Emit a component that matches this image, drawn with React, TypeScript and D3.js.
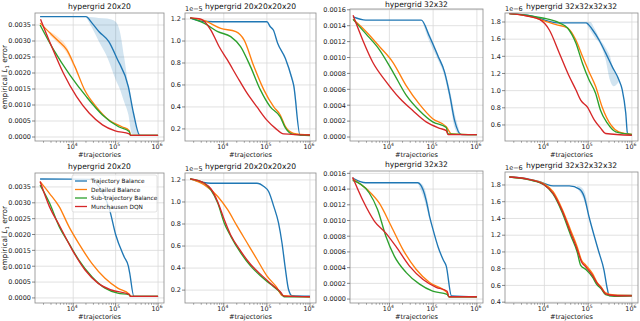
import React from "react";
import * as d3 from "d3";

const W = 640,
  H = 321;
const FONT = "DejaVu Sans, Verdana, sans-serif";

const METHODS = ["Trajectory Balance", "Detailed Balance", "Sub-trajectory Balance", "Munchausen DQN"];
const COLORS = ["#1f77b4", "#ff7f0e", "#2ca02c", "#d62728"];
const TITLES = ["hypergrid 20x20", "hypergrid 20x20x20x20", "hypergrid 32x32", "hypergrid 32x32x32x32"];
const X_TICKS = [1e4, 1e5, 1e6];
const X_EXP = [3.1, 6.14];

const Y_TICKS_20 = [0, 0.0005, 0.001, 0.0015, 0.002, 0.0025, 0.003, 0.0035];
const Y_TICKS_20_4 = [0.2, 0.4, 0.6, 0.8, 1.0, 1.2];
const Y_TICKS_32 = [0, 0.0002, 0.0004, 0.0006, 0.0008, 0.001, 0.0012, 0.0014, 0.0016];
const Y_TICKS_32_4 = [0.4, 0.6, 0.8, 1.0, 1.2, 1.4, 1.6, 1.8];

// points are [log10(#trajectories), error]
// ---- row 1 ----
const r1_20_tb = [[3.22, 0.00376], [4.3, 0.00376], [4.45, 0.00355], [4.61, 0.00329], [4.84, 0.00298], [5.03, 0.00246], [5.3, 0.00157], [5.42, 0.00075], [5.57, 0.00005], [6.0, 0.00005]];
const r1_20_db = [[3.22, 0.00356], [3.46, 0.00324], [3.65, 0.003], [3.85, 0.00272], [4.04, 0.0022], [4.27, 0.00147], [4.54, 0.00095], [4.84, 0.00053], [5.15, 0.00032], [5.32, 0.0002], [5.35, 0.00005], [6.0, 0.00005]];
const r1_20_stb = [[3.22, 0.0035], [3.54, 0.00272], [3.92, 0.00194], [4.31, 0.00126], [4.69, 0.00069], [5.07, 0.00032], [5.32, 0.00017], [5.35, 0.00005], [6.0, 0.00005]];
const r1_20_mdqn = [[3.23, 0.00368], [3.46, 0.00293], [3.77, 0.00199], [4.08, 0.00126], [4.38, 0.00074], [4.69, 0.00038], [4.99, 0.00019], [5.32, 0.0001], [5.36, 0.00005], [6.0, 0.00005]];
const r1_20_tbBand = [[4.3, 0.00375, 0.00376], [4.45, 0.0034, 0.00374], [4.6, 0.003, 0.00372], [4.8, 0.0025, 0.0037], [5.0, 0.0018, 0.0036], [5.1, 0.0015, 0.0033], [5.2, 0.0011, 0.0025], [5.3, 0.0007, 0.0016], [5.38, 0.0001, 0.001], [5.5, 0.00004, 0.0003], [5.6, 0.00004, 0.00005]];
const r1_20_dbBand = [[3.45, 0.00318, 0.0033], [3.65, 0.00292, 0.00312], [3.85, 0.00262, 0.00282], [4.0, 0.00222, 0.00232]];

const r1_20x4_tb = [[3.22, 1.21], [3.5, 1.18], [4.0, 1.175], [5.0, 1.175], [5.08, 1.13], [5.15, 1.1], [5.25, 0.98], [5.43, 0.84], [5.58, 0.66], [5.62, 0.6], [5.77, 0.145], [6.0, 0.145]];
const r1_20x4_db = [[3.22, 1.21], [3.55, 1.185], [3.93, 1.115], [4.28, 1.085], [4.47, 1.01], [4.7, 0.767], [4.93, 0.555], [5.16, 0.4], [5.31, 0.327], [5.43, 0.22], [5.62, 0.16], [6.0, 0.145]];
const r1_20x4_stb = [[3.22, 1.21], [3.55, 1.16], [3.86, 1.085], [4.16, 1.04], [4.39, 0.95], [4.62, 0.767], [4.85, 0.555], [5.08, 0.4], [5.31, 0.31], [5.43, 0.21], [5.62, 0.15], [6.0, 0.14]];
const r1_20x4_mdqn = [[3.22, 1.21], [3.47, 1.2], [3.7, 1.1], [3.89, 0.95], [4.08, 0.83], [4.31, 0.675], [4.54, 0.525], [4.77, 0.4], [5.0, 0.28], [5.2, 0.205], [5.39, 0.155], [6.0, 0.145]];
const r1_20x4_tbBand = [[5.45, 0.8, 0.82], [5.55, 0.68, 0.72], [5.62, 0.58, 0.63], [5.7, 0.36, 0.4]];

const r1_32_tb = [[3.17, 0.00151], [3.46, 0.00147], [4.73, 0.00147], [4.92, 0.00126], [5.11, 0.00102], [5.26, 0.00082], [5.38, 0.00053], [5.49, 0.00021], [5.65, 0.00003], [6.0, 0.00003]];
const r1_32_db = [[3.17, 0.00148], [3.46, 0.00133], [3.77, 0.00114], [4.08, 0.00094], [4.38, 0.00065], [4.69, 0.00041], [4.99, 0.00023], [5.3, 0.00013], [5.42, 0.00004], [6.0, 0.00003]];
const r1_32_stb = [[3.17, 0.00148], [3.46, 0.0013], [3.77, 0.0011], [4.08, 0.00082], [4.38, 0.00053], [4.69, 0.00033], [4.99, 0.00019], [5.3, 0.00012], [5.34, 0.00004], [6.0, 0.00003]];
const r1_32_mdqn = [[3.17, 0.00153], [3.39, 0.00122], [3.62, 0.00094], [3.92, 0.0007], [4.23, 0.00049], [4.54, 0.00033], [4.84, 0.00019], [5.15, 0.00011], [5.3, 0.00008], [5.34, 0.00003], [6.0, 0.00003]];
const r1_32_tbBand = [[4.75, 0.00146, 0.00148], [4.9, 0.00122, 0.00132], [5.1, 0.00098, 0.00106], [5.25, 0.00078, 0.00086], [5.38, 0.00046, 0.0006], [5.49, 0.00012, 0.0003], [5.6, 0.00003, 0.00008]];

const r1_32x4_tb = [[3.2, 1.897], [3.7, 1.87], [4.11, 1.807], [4.3, 1.79], [4.95, 1.79], [5.1, 1.71], [5.25, 1.59], [5.4, 1.44], [5.55, 1.28], [5.7, 1.13], [5.78, 1.01], [5.86, 0.74], [5.9, 0.5], [6.0, 0.48]];
const r1_32x4_db = [[3.2, 1.897], [3.66, 1.865], [3.96, 1.82], [4.27, 1.77], [4.53, 1.73], [4.72, 1.59], [4.87, 1.4], [5.02, 1.22], [5.17, 1.05], [5.32, 0.81], [5.52, 0.6], [5.7, 0.52], [6.0, 0.49]];
const r1_32x4_stb = [[3.2, 1.897], [3.66, 1.875], [3.96, 1.847], [4.34, 1.79], [4.53, 1.73], [4.72, 1.555], [4.87, 1.32], [5.02, 1.126], [5.17, 0.97], [5.28, 0.775], [5.44, 0.62], [5.63, 0.52], [6.0, 0.49]];
const r1_32x4_mdqn = [[3.2, 1.897], [3.6, 1.87], [3.89, 1.83], [4.11, 1.71], [4.34, 1.44], [4.57, 1.165], [4.72, 1.01], [4.83, 0.89], [4.98, 0.81], [5.14, 0.66], [5.29, 0.56], [5.4, 0.5], [6.0, 0.48]];
const r1_32x4_tbBand = [[4.95, 1.79, 1.8], [5.05, 1.7, 1.8], [5.15, 1.62, 1.72], [5.25, 1.56, 1.62], [5.4, 1.36, 1.5], [5.5, 1.12, 1.4], [5.58, 1.05, 1.25], [5.7, 1.1, 1.16]];

// ---- row 2 ----
const r2_20_tb = [[3.22, 0.00375], [4.4, 0.00374], [4.7, 0.0033], [4.86, 0.00277], [5.0, 0.002], [5.2, 0.0013], [5.3, 0.001], [5.33, 0.0008], [5.43, 0.00005], [6.0, 0.00005]];
const r2_20_db = [[3.22, 0.00367], [3.44, 0.0033], [3.67, 0.00288], [3.9, 0.00225], [4.13, 0.00172], [4.44, 0.00109], [4.75, 0.00062], [5.05, 0.00031], [5.32, 0.00012], [5.35, 0.00005], [6.0, 0.00005]];
const r2_20_stb = [[3.22, 0.00356], [3.44, 0.003], [3.67, 0.00225], [3.9, 0.00172], [4.13, 0.0012], [4.44, 0.00067], [4.75, 0.00031], [5.05, 0.00015], [5.32, 0.0001], [5.35, 0.00005], [6.0, 0.00005]];
const r2_20_mdqn = [[3.22, 0.00367], [3.44, 0.00288], [3.67, 0.0023], [3.98, 0.00151], [4.28, 0.00088], [4.59, 0.00046], [4.9, 0.00025], [5.32, 0.00011], [5.35, 0.00005], [6.0, 0.00005]];

const r2_20x4_tb = [[3.22, 1.21], [3.7, 1.17], [4.77, 1.17], [4.93, 1.14], [5.04, 1.095], [5.16, 0.96], [5.27, 0.81], [5.35, 0.63], [5.43, 0.39], [5.5, 0.21], [5.58, 0.15], [6.0, 0.145]];
const r2_20x4_db = [[3.22, 1.21], [3.55, 1.155], [3.86, 1.05], [4.09, 0.93], [4.31, 0.78], [4.54, 0.63], [4.77, 0.48], [5.0, 0.33], [5.23, 0.225], [5.36, 0.15], [6.0, 0.14]];
const r2_20x4_stb = [[3.22, 1.21], [3.55, 1.17], [3.7, 1.11], [3.86, 0.99], [4.01, 0.81], [4.16, 0.69], [4.39, 0.54], [4.62, 0.42], [4.85, 0.33], [5.08, 0.255], [5.31, 0.18], [5.4, 0.14], [6.0, 0.14]];
const r2_20x4_mdqn = [[3.22, 1.21], [3.55, 1.17], [3.7, 1.12], [3.86, 1.0], [4.01, 0.84], [4.16, 0.7], [4.39, 0.555], [4.62, 0.435], [4.85, 0.345], [5.08, 0.263], [5.31, 0.185], [5.4, 0.145], [6.0, 0.14]];

const r2_32_tb = [[3.16, 0.00154], [3.46, 0.00148], [4.65, 0.00148], [4.77, 0.00139], [4.84, 0.00126], [4.92, 0.00105], [5.0, 0.00088], [5.11, 0.00067], [5.23, 0.0005], [5.3, 0.00042], [5.42, 0.00004], [6.0, 0.00003]];
const r2_32_db = [[3.16, 0.00153], [3.5, 0.00139], [3.77, 0.00122], [4.04, 0.00093], [4.31, 0.00063], [4.61, 0.00038], [4.92, 0.00021], [5.23, 0.00012], [5.32, 0.00008], [5.36, 0.00003], [6.0, 0.00003]];
const r2_32_stb = [[3.16, 0.00151], [3.54, 0.00135], [3.73, 0.00114], [3.92, 0.0008], [4.11, 0.00055], [4.38, 0.00034], [4.69, 0.00019], [4.99, 0.0001], [5.32, 0.00006], [5.36, 0.00003], [6.0, 0.00003]];
const r2_32_mdqn = [[3.16, 0.00155], [3.39, 0.00126], [3.66, 0.00099], [3.92, 0.00084], [4.15, 0.00067], [4.46, 0.00042], [4.77, 0.00025], [5.07, 0.00015], [5.32, 0.0001], [5.36, 0.00003], [6.0, 0.00003]];
const r2_32_tbBand = [[4.65, 0.00147, 0.00149], [4.75, 0.00134, 0.00146], [4.84, 0.00118, 0.00134], [4.92, 0.001, 0.0011]];

const r2_32x4_tb = [[3.2, 1.9], [3.6, 1.875], [3.89, 1.84], [4.04, 1.81], [4.2, 1.79], [4.57, 1.79], [4.8, 1.75], [4.91, 1.66], [5.02, 1.42], [5.14, 1.19], [5.25, 0.99], [5.36, 0.79], [5.44, 0.555], [5.48, 0.48], [6.0, 0.48]];
const r2_32x4_db = [[3.2, 1.895], [3.66, 1.865], [4.0, 1.81], [4.2, 1.72], [4.4, 1.52], [4.6, 1.26], [4.75, 1.06], [4.85, 0.9], [4.95, 0.84], [5.1, 0.74], [5.2, 0.64], [5.3, 0.58], [5.4, 0.51], [5.6, 0.485], [6.0, 0.48]];
const r2_32x4_stb = [[3.2, 1.895], [3.66, 1.86], [4.0, 1.8], [4.2, 1.69], [4.4, 1.48], [4.6, 1.2], [4.75, 1.0], [4.83, 0.84], [4.95, 0.79], [5.1, 0.7], [5.2, 0.61], [5.3, 0.56], [5.4, 0.49], [5.6, 0.47], [6.0, 0.475]];
const r2_32x4_mdqn = [[3.2, 1.895], [3.66, 1.865], [4.0, 1.8], [4.2, 1.7], [4.4, 1.5], [4.6, 1.23], [4.75, 1.03], [4.85, 0.88], [4.95, 0.82], [5.1, 0.72], [5.2, 0.63], [5.3, 0.57], [5.4, 0.5], [5.6, 0.48], [6.0, 0.475]];
const r2_32x4_tbBand = [[4.75, 1.76, 1.79], [4.85, 1.68, 1.77], [4.95, 1.55, 1.67], [5.02, 1.42, 1.44]];

// layout
const COLS = [[35, 164], [185, 316], [350, 483], [505, 638]];

const panels = [
  { row: 0, col: 0, top: 13, bottom: 141, yDomain: [-0.000125, 0.003875], yTicks: Y_TICKS_20, fmt: ".4f", offset: "", series: [r1_20_tb, r1_20_db, r1_20_stb, r1_20_mdqn], bands: [[0, r1_20_tbBand], [1, r1_20_dbBand]] },
  { row: 0, col: 1, top: 13, bottom: 141, yDomain: [0.09, 1.255], yTicks: Y_TICKS_20_4, fmt: ".1f", offset: "5", series: [r1_20x4_tb, r1_20x4_db, r1_20x4_stb, r1_20x4_mdqn], bands: [[0, r1_20x4_tbBand]] },
  { row: 0, col: 2, top: 9, bottom: 141, yDomain: [-0.00005, 0.00161], yTicks: Y_TICKS_32, fmt: ".4f", offset: "", series: [r1_32_tb, r1_32_db, r1_32_stb, r1_32_mdqn], bands: [[0, r1_32_tbBand]] },
  { row: 0, col: 3, top: 13, bottom: 141, yDomain: [0.413, 1.905], yTicks: Y_TICKS_32_4, fmt: ".1f", offset: "6", series: [r1_32x4_tb, r1_32x4_db, r1_32x4_stb, r1_32x4_mdqn], bands: [[0, r1_32x4_tbBand]] },
  { row: 1, col: 0, top: 173, bottom: 303, yDomain: [-0.00016, 0.00394], yTicks: Y_TICKS_20, fmt: ".4f", offset: "", series: [r2_20_tb, r2_20_db, r2_20_stb, r2_20_mdqn], bands: [] },
  { row: 1, col: 1, top: 173, bottom: 303, yDomain: [0.083, 1.263], yTicks: Y_TICKS_20_4, fmt: ".1f", offset: "5", series: [r2_20x4_tb, r2_20x4_db, r2_20x4_stb, r2_20x4_mdqn], bands: [] },
  { row: 1, col: 2, top: 171, bottom: 303, yDomain: [-0.00005, 0.00163], yTicks: Y_TICKS_32, fmt: ".4f", offset: "", series: [r2_32_tb, r2_32_db, r2_32_stb, r2_32_mdqn], bands: [[0, r2_32_tbBand]] },
  { row: 1, col: 3, top: 172, bottom: 303, yDomain: [0.39, 1.955], yTicks: Y_TICKS_32_4, fmt: ".1f", offset: "6", series: [r2_32x4_tb, r2_32x4_db, r2_32x4_stb, r2_32x4_mdqn], bands: [[0, r2_32x4_tbBand]] },
];

function Panel({ p }: { p: any }) {
  const [x0, x1] = COLS[p.col];
  const x = d3.scaleLog().domain([10 ** X_EXP[0], 10 ** X_EXP[1]]).range([x0, x1]);
  const y = d3.scaleLinear().domain(p.yDomain).range([p.bottom, p.top]);
  const line = d3
    .line<number[]>()
    .x((d) => x(10 ** d[0]))
    .y((d) => y(d[1]))
    .curve(d3.curveMonotoneX);
  const area = d3
    .area<number[]>()
    .x((d) => x(10 ** d[0]))
    .y0((d) => y(d[1]))
    .y1((d) => y(d[2]))
    .curve(d3.curveMonotoneX);
  const fmt = d3.format(p.fmt);
  const yTicks = p.yTicks.filter((t: number) => t >= p.yDomain[0] && t <= p.yDomain[1]);
  const minor: number[] = [];
  for (let k = 3; k <= 5; k++)
    for (let m = 2; m <= 9; m++) {
      const v = m * 10 ** k;
      if (Math.log10(v) >= X_EXP[0] && Math.log10(v) <= X_EXP[1]) minor.push(v);
    }
  const cx = (x0 + x1) / 2;
  const showLegend = p.row === 1 && p.col === 0;
  const lx = x0 + 37,
    ly = p.top + 2;

  return (
    <g>
      {X_TICKS.map((t) => (
        <line key={"gx" + t} x1={x(t)} x2={x(t)} y1={p.top} y2={p.bottom} stroke="#d9d9d9" strokeWidth={0.8} />
      ))}
      {yTicks.map((t: number) => (
        <line key={"gy" + t} x1={x0} x2={x1} y1={y(t)} y2={y(t)} stroke="#d9d9d9" strokeWidth={0.8} />
      ))}
      {p.bands.map(([si, b]: [number, number[][]], i: number) => (
        <path key={"b" + i} d={area(b) || ""} fill={COLORS[si]} fillOpacity={0.2} />
      ))}
      {p.series.map((s: number[][], i: number) => (
        <path key={"s" + i} d={line(s) || ""} fill="none" stroke={COLORS[i]} strokeWidth={1.35} />
      ))}
      <rect x={x0} y={p.top} width={x1 - x0} height={p.bottom - p.top} fill="none" stroke="#8a8a8a" strokeWidth={0.8} />
      {minor.map((t) => (
        <line key={"mx" + t} x1={x(t)} x2={x(t)} y1={p.bottom} y2={p.bottom + 1.8} stroke="#555" strokeWidth={0.5} />
      ))}
      {X_TICKS.map((t) => (
        <g key={"xt" + t}>
          <line x1={x(t)} x2={x(t)} y1={p.bottom} y2={p.bottom + 3} stroke="#555" strokeWidth={0.7} />
          <text x={x(t) - 1} y={p.bottom + 8.3} fontSize={6.4} textAnchor="middle" fill="#222">
            10
            <tspan dy={-3} fontSize={4.5}>
              {Math.round(Math.log10(t))}
            </tspan>
          </text>
        </g>
      ))}
      {yTicks.map((t: number) => (
        <g key={"yt" + t}>
          <line x1={x0 - 3} x2={x0} y1={y(t)} y2={y(t)} stroke="#555" strokeWidth={0.7} />
          <text x={x0 - 4} y={y(t) + 2.3} fontSize={6.5} textAnchor="end" fill="#222">
            {fmt(t)}
          </text>
        </g>
      ))}
      {p.offset && (
        <text x={x0} y={p.top - 2.5} fontSize={6.5} fill="#222">
          1e−{p.offset}
        </text>
      )}
      <text x={cx} y={p.top - (p.top < 10 ? 2 : 4)} fontSize={7.6} textAnchor="middle" fill="#111">
        {TITLES[p.col]}
      </text>
      <text x={cx} y={p.bottom + 16.2} fontSize={6.6} textAnchor="middle" fill="#111">
        #trajectories
      </text>
      {p.col === 0 && (
        <text
          transform={`translate(7,${(p.top + p.bottom) / 2}) rotate(-90)`}
          fontSize={7.4}
          textAnchor="middle"
          fill="#111"
        >
          empirical <tspan fontStyle="italic">L</tspan>
          <tspan dy={1.8} fontSize={5.2}>
            1
          </tspan>
          <tspan dy={-1.8}> error</tspan>
        </text>
      )}
      {showLegend && (
        <g>
          <rect x={lx} y={ly} width={85} height={37} rx={2} fill="#fff" fillOpacity={0.8} stroke="#d0d0d0" strokeWidth={0.6} />
          {METHODS.map((m, i) => (
            <g key={m}>
              <line x1={lx + 3} x2={lx + 15} y1={ly + 6 + i * 8.5} y2={ly + 6 + i * 8.5} stroke={COLORS[i]} strokeWidth={1.3} />
              <text x={lx + 19} y={ly + 8 + i * 8.5} fontSize={5.8} fill="#111">
                {m}
              </text>
            </g>
          ))}
        </g>
      )}
    </g>
  );
}

export default function App() {
  return (
    <svg
      width={W}
      height={H}
      viewBox={`0 0 ${W} ${H}`}
      style={{ position: "absolute", left: 0, top: 0, background: "#fff" }}
      fontFamily={FONT}
    >
      <rect width={W} height={H} fill="#fff" />
      {panels.map((p, i) => (
        <Panel key={i} p={p} />
      ))}
    </svg>
  );
}
